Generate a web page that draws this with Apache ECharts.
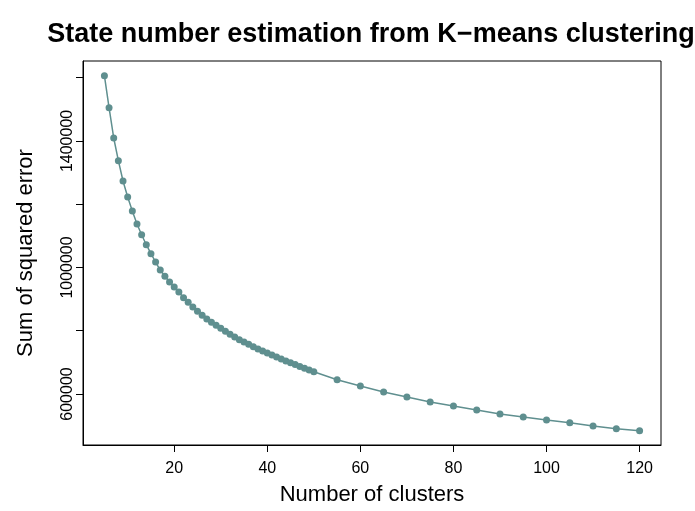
<!DOCTYPE html>
<html>
<head>
<meta charset="utf-8">
<script src="https://cdn.jsdelivr.net/npm/echarts@6/dist/echarts.min.js"></script>
<style>
  html, body { margin: 0; padding: 0; background: #fff; }
  #chart { width: 695px; height: 511px; }
</style>
</head>
<body>
<div id="chart"></div>
<script>
// Number of clusters tried in the K-means runs
const clusters = [
  5, 6, 7, 8, 9, 10, 11, 12, 13, 14, 15, 16, 17, 18, 19, 20,
  21, 22, 23, 24, 25, 26, 27, 28, 29, 30, 31, 32, 33, 34, 35,
  36, 37, 38, 39, 40, 41, 42, 43, 44, 45, 46, 47, 48, 49, 50,
  55, 60, 65, 70, 75, 80, 85, 90, 95, 100, 105, 110, 115, 120
];

// Total within-cluster sum of squared error for each run
const sse = [
  1606300, 1505200, 1409400, 1337600, 1273400, 1222800, 1178600, 1137500,
  1103600, 1072000, 1043600, 1017300, 992000, 972100, 954100, 938300,
  922500, 904500, 889900, 875100, 861500, 848800, 837100, 826700, 817200,
  807700, 798200, 788700, 780200, 771700, 764400,
  757100, 749500, 742300, 735900, 729600, 723300, 717000, 710700, 704300,
  698600, 693000, 687300, 681600, 675900, 670500,
  645200, 625300, 606300, 590500, 574700, 562100, 549400, 536800, 527300,
  517800, 509300, 498800, 490300, 484000
];

// Axis tick positions and the subset that carries labels
const xTicks = [20, 40, 60, 80, 100, 120];
const yTicks = [600000, 800000, 1000000, 1200000, 1400000, 1600000];
const yLabelled = [600000, 1000000, 1400000];

const titleText = 'State number estimation from K\u2212means clustering';
const xTitle = 'Number of clusters';
const yTitle = 'Sum of squared error';

const FONT = '"Liberation Sans", Arial, Helvetica, sans-serif';
const INK = '#000';
const SERIES_COLOR = '#5f8f8f';

// Padded ranges so the data sits inside the frame
const xMin = 0.4, xMax = 124.6;
const yMin = 438760, yMax = 1652800;

const chart = echarts.init(document.getElementById('chart'), null, { renderer: 'canvas' });

chart.setOption({
  animation: false,
  backgroundColor: '#fff',
  grid: {
    left: 83, top: 61, right: 34, bottom: 66,
    show: true, borderColor: INK, borderWidth: 1, backgroundColor: 'transparent'
  },
  graphic: [{
    type: 'text',
    x: 371, y: 35,
    style: {
      text: titleText,
      font: 'bold 27px ' + FONT,
      fill: INK,
      textAlign: 'center',
      textVerticalAlign: 'middle'
    }
  }],
  xAxis: {
    type: 'value',
    min: xMin, max: xMax,
    name: xTitle,
    nameLocation: 'middle',
    nameGap: 39,
    nameTextStyle: { fontFamily: FONT, fontSize: 22, color: INK },
    splitLine: { show: false },
    axisLine: { show: true, onZero: false, lineStyle: { color: INK, width: 1 } },
    axisTick: { show: true, inside: false, length: 7, customValues: xTicks, lineStyle: { color: INK } },
    axisLabel: {
      customValues: xTicks, margin: 16,
      fontFamily: FONT, fontSize: 16, color: INK
    }
  },
  yAxis: {
    type: 'value',
    min: yMin, max: yMax,
    name: yTitle,
    nameLocation: 'middle',
    nameGap: 46,
    nameRotate: 90,
    nameTextStyle: { fontFamily: FONT, fontSize: 22, color: INK },
    splitLine: { show: false },
    axisLine: { show: true, onZero: false, lineStyle: { color: INK, width: 1 } },
    axisTick: { show: true, inside: false, length: 7, customValues: yTicks, lineStyle: { color: INK } },
    axisLabel: {
      customValues: yLabelled, rotate: 90, margin: 7,
      formatter: v => String(v),
      fontFamily: FONT, fontSize: 16, color: INK
    }
  },
  series: [{
    type: 'line',
    data: clusters.map((c, i) => [c, sse[i]]),
    symbol: 'circle',
    symbolSize: 7,
    showAllSymbol: true,
    lineStyle: { color: SERIES_COLOR, width: 1.5 },
    itemStyle: { color: SERIES_COLOR },
    emphasis: { disabled: true }
  }]
});
</script>
</body>
</html>
